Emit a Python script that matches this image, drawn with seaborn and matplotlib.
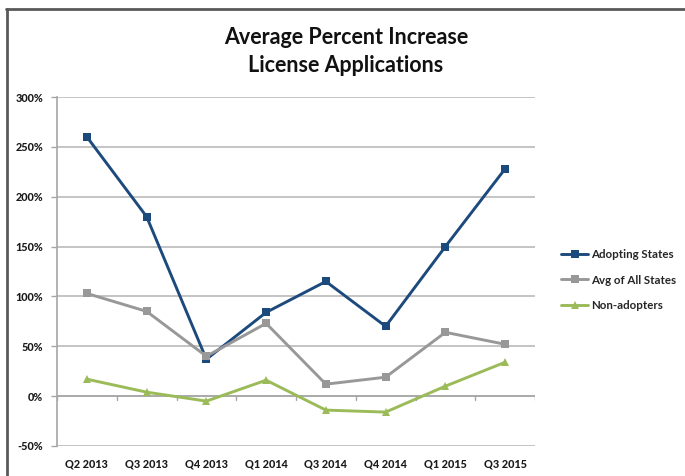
import matplotlib
matplotlib.use("Agg")
import matplotlib.pyplot as plt
from matplotlib.lines import Line2D
import seaborn as sns
import pandas as pd

quarters = ["Q2 2013", "Q3 2013", "Q4 2013", "Q1 2014",
            "Q3 2014", "Q4 2014", "Q1 2015", "Q3 2015"]
adopting = [260, 180, 37, 84, 115, 70, 150, 228]
avg_all = [103, 85, 40, 73, 12, 19, 64, 52]
non_adopters = [17, 4, -5, 16, -14, -16, 10, 34]
series_names = ["Adopting States", "Avg of All States", "Non-adopters"]
y_ticks = [-50, 0, 50, 100, 150, 200, 250, 300]

colors = {"Adopting States": "#1d4a7c",
          "Avg of All States": "#989898",
          "Non-adopters": "#9bbb59"}
markers = {"Adopting States": "s", "Avg of All States": "s", "Non-adopters": "^"}

rows = []
for name, vals in zip(series_names, [adopting, avg_all, non_adopters]):
    for i, (q, v) in enumerate(zip(quarters, vals)):
        rows.append({"pos": i, "quarter": q, "value": v, "series": name})
df = pd.DataFrame(rows)

sns.set_theme(style="white")
plt.rcParams["font.family"] = ["Lato", "DejaVu Sans"]

fig = plt.figure(figsize=(6.85, 4.76), dpi=100)
ax = fig.add_axes([57 / 685, 1 - 446 / 476, (535 - 57) / 685, (446 - 97) / 476])

# gridlines
for t in y_ticks:
    ax.axhline(t, color="#c4c4c4", lw=1.4, zorder=0)
# zero axis with category boundary ticks
ax.axhline(0, color="#a6a6a6", lw=1.2, zorder=1)
for b in range(len(quarters) + 1):
    ax.plot([b - 0.5, b - 0.5], [0, -4], color="#a6a6a6", lw=1.0, zorder=1)

sns.lineplot(data=df, x="pos", y="value", hue="series", style="series",
             hue_order=series_names, palette=colors, markers=markers,
             dashes=False, markersize=6, linewidth=2.1, markeredgewidth=0,
             sort=False, legend=False, ax=ax, zorder=3)

ax.set_xlim(-0.5, len(quarters) - 0.5)
ax.set_ylim(-50, 300)
ax.set_xticks(range(len(quarters)))
ax.set_xticklabels(quarters, fontsize=7.8, fontweight="black", color="#1a1a1a")
ax.set_yticks(y_ticks)
ax.set_yticklabels([f"{t}%" for t in y_ticks], fontsize=7.8,
                   fontweight="black", color="#1a1a1a")
ax.tick_params(axis="x", length=0, pad=9)
ax.tick_params(axis="y", length=4, width=1.0, color="#a6a6a6", pad=6, left=True)
for side in ["top", "right", "bottom"]:
    ax.spines[side].set_visible(False)
ax.spines["left"].set_color("#a6a6a6")
ax.spines["left"].set_linewidth(1.2)
ax.set_xlabel("")
ax.set_ylabel("")

fig.text(346 / 685, 1 - 38 / 476, "Average Percent Increase", ha="center",
         va="center", fontsize=15.5, fontweight="bold", color="#111111")
fig.text(346 / 685, 1 - 66 / 476, "License Applications", ha="center",
         va="center", fontsize=15.5, fontweight="bold", color="#111111")

handles = [Line2D([0], [0], color=colors[n], marker=markers[n], lw=2.1,
                  markersize=6, markeredgewidth=0) for n in series_names]
fig.legend(handles, series_names, loc="center left",
           bbox_to_anchor=(555 / 685, 1 - 280 / 476), frameon=False,
           prop={"size": 8.3, "weight": "bold"}, handlelength=2.4,
           handletextpad=0.2, labelspacing=1.25, borderpad=0)

# outer chart frame
fig.add_artist(Line2D([7 / 685, 7 / 685], [0, 1 - 9 / 476], color="#595959",
                      lw=2.0, transform=fig.transFigure))
fig.add_artist(Line2D([6 / 685, 1], [1 - 9 / 476, 1 - 9 / 476], color="#595959",
                      lw=2.0, transform=fig.transFigure))

fig.savefig("out.png", dpi=100)
